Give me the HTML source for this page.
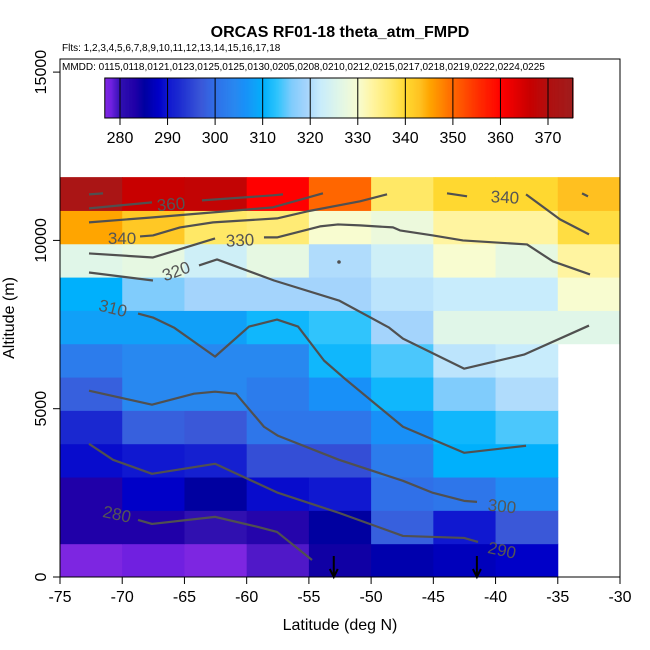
<!DOCTYPE html>
<html><head><meta charset="utf-8"><style>body{margin:0;background:#fff}svg{display:block;font-family:"Liberation Sans",sans-serif}</style></head>
<body>
<svg id="chart" width="650" height="650" xmlns="http://www.w3.org/2000/svg">
<rect x="0" y="0" width="650" height="650" fill="#fff"/>
<g id="cells"></g>
<g id="contours"></g>
<g id="clabels" fill="#555" font-size="17"></g>
<g id="arrows"></g>
<rect x="60" y="59" width="560" height="518" fill="none" stroke="#000" stroke-width="1"/>
<text x="340" y="37" text-anchor="middle" font-size="16" font-weight="bold">ORCAS RF01-18 theta_atm_FMPD</text>
<text x="62" y="51" font-size="10">Flts: 1,2,3,4,5,6,7,8,9,10,11,12,13,14,15,16,17,18</text>
<text x="62" y="70" font-size="10">MMDD: 0115,0118,0121,0123,0125,0125,0130,0205,0208,0210,0212,0215,0217,0218,0219,0222,0224,0225</text>
<g id="cbar"></g>
<g id="axes"></g>
<text x="340" y="630" text-anchor="middle" font-size="16">Latitude (deg N)</text>
<text transform="translate(14,318) rotate(-90)" text-anchor="middle" font-size="16">Altitude (m)</text>
</svg>
<script>
const latEdges = [-75,-70,-65,-60,-55,-50,-45,-40,-35,-30];
const rowHeight = 990;
// values by row, bottom (row 0) to top (row 11); null = no data
const theta = [
 [277,278,277,279,284,286,287,288,null],
 [283,283,280,282,285,298,290,297,null],
 [283,288,285,289,290,300,301,305,null],
 [289,290,291,296,296,302,310,310,null],
 [292,298,297,301,301,306,311,314,null],
 [298,304,304,302,306,311,316,320,null],
 [302,304,304,304,311,314,321,322,null],
 [308,308,308,311,313,319,326,326,326],
 [310,316,319,319,319,321,322,322,330],
 [326,327,323,327,320,323,330,327,333],
 [345,342,337,336,330,328,333,333,339],
 [372,366,367,360,350,337,340,340,343]
];
const xTicks = [-75,-70,-65,-60,-55,-50,-45,-40,-35,-30];
const yTicks = [0,5000,10000,15000];
const cbTicks = [280,290,300,310,320,330,340,350,360,370];
const arrowLats = [-53,-41.5];
const contourLines = [
 [[-72.67,11368],[-71.54,11398]],
 [[-72.67,10952],[-67.61,11130]],
 [[-63.59,11190],[-57.88,11339],[-57.08,11368]],
 [[-72.67,10535],[-67.53,10684],[-62.70,10833],[-57.88,10982],[-53.87,11398]],
 [[-68.57,10118],[-67.53,10148],[-65.36,10386],[-62.70,10535],[-57.56,10654],[-55.15,10862],[-50.89,11160],[-48.72,11368]],
 [[-43.90,11398],[-42.29,11309]],
 [[-37.55,11368],[-34.82,10624],[-32.49,10178]],
 [[-33.05,11398],[-32.57,11309]],
 [[-72.67,9612],[-67.53,9493],[-62.54,10059]],
 [[-58.61,10089],[-57.56,10089],[-54.11,10416],[-52.66,10475],[-50.89,10446],[-48.24,10386],[-47.68,10297],[-45.03,10148],[-42.62,9999],[-37.47,9880],[-35.38,9374],[-32.41,8988]],
 [[-72.67,9047],[-67.53,8809]],
 [[-63.83,9255],[-62.38,9434],[-57.80,8809],[-52.58,8214],[-48.56,7410],[-47.44,7083],[-42.53,6190],[-37.71,6607],[-32.49,7470]],
 [[-68.73,7827],[-67.53,7708],[-65.84,7410],[-62.54,6547],[-59.81,7440],[-57.56,7648],[-55.87,7440],[-53.78,6428],[-52.02,5863],[-47.44,4464],[-42.53,3690],[-37.55,3899]],
 [[-72.67,5535],[-67.61,5119],[-64.23,5446],[-62.54,5506],[-60.86,5446],[-58.61,4464],[-57.48,4196],[-52.58,3482],[-47.44,2857],[-45.03,2500],[-42.53,2262],[-41.49,2232]],
 [[-72.67,3958],[-70.74,3482],[-67.61,3065],[-62.54,3363],[-57.48,2500],[-52.58,1905],[-47.44,1220],[-42.53,1161],[-41.41,1042]],
 [[-68.73,1696],[-67.61,1577],[-62.54,1786],[-59.09,1488],[-57.56,1339],[-54.75,506]]
];
const contourText = ["360","340","330","320","310","340","300","290","280"];
const contourTextPos = [[171,210,-5],[122,244,0],[240,246,-3],[176,277,-20],[113,314,14],[505,203,3],[502,512,6],[502,556,12],[117,520,12]];

const X = v => 60 + (v + 75) * 560 / 45;
const Y = v => 577 - v * 0.03366;
const stops = [[276,'#8a2be2'],[278,'#7020e0'],[280,'#3010b0'],[283,'#2000a8'],[285,'#0000a0'],[288,'#0000c8'],[290,'#1018d0'],[292,'#1a28d0'],[297,'#3a58d8'],[300,'#3070e8'],[304,'#2888f0'],[306,'#1890f8'],[308,'#10a0f8'],[310,'#00b0fc'],[313,'#30c4fc'],[316,'#80ccfc'],[319,'#a4d4fc'],[322,'#c8ecfc'],[326,'#e0f6e8'],[330,'#f8fcd0'],[333,'#fff4a0'],[337,'#ffe866'],[340,'#ffd830'],[343,'#ffc020'],[345,'#ffa500'],[350,'#ff6600'],[355,'#ff3000'],[360,'#ff0000'],[366,'#c80000'],[370,'#b01010'],[375,'#a01c1c']];
function hex(h){return [1,3,5].map(i=>parseInt(h.substr(i,2),16));}
function color(v){
 if(v<=stops[0][0])return stops[0][1];
 for(let i=1;i<stops.length;i++){if(v<=stops[i][0]){const a=stops[i-1],b=stops[i];const t=(v-a[0])/(b[0]-a[0]);const ca=hex(a[1]),cb=hex(b[1]);return 'rgb('+ca.map((c,k)=>Math.round(c+(cb[k]-c)*t)).join(',')+')';}}
 return stops[stops.length-1][1];
}
const NS='http://www.w3.org/2000/svg';
function mk(tag,attrs,parent){const e=document.createElementNS(NS,tag);for(const k in attrs)e.setAttribute(k,attrs[k]);parent.appendChild(e);return e;}
const cells=document.getElementById('cells');
theta.forEach((row,r)=>row.forEach((v,c)=>{
 if(v===null)return;
 const y0=Y((r+1)*rowHeight),y1=Y(r*rowHeight);
 const e=mk('rect',{x:X(latEdges[c]),y:y0,width:X(latEdges[c+1])-X(latEdges[c])+0.5,height:y1-y0+0.5,fill:color(v)},cells);
 
 
}));
const cg=document.getElementById('contours');
contourLines.forEach(line=>{
 const e=mk('polyline',{points:line.map(p=>X(p[0])+','+Y(p[1])).join(' '),fill:'none',stroke:'#505050','stroke-width':2.2,'stroke-linejoin':'round'},cg);
 
 
});
mk('circle',{cx:339,cy:262,r:1.8,fill:'#505050'},cg);
const lg=document.getElementById('clabels');
contourText.forEach((t,i)=>{const p=contourTextPos[i];
 const e=mk('text',{x:p[0],y:p[1],'text-anchor':'middle',transform:'rotate('+p[2]+' '+p[0]+' '+(p[1]-6)+')'},lg);e.textContent=t;
 
 
});
const ag=document.getElementById('arrows');
arrowLats.forEach(l=>{const x=X(l);
 const e=mk('path',{d:'M'+x+' 556 L'+x+' 577 M'+(x-4)+' 569 L'+x+' 577 L'+(x+4)+' 569',stroke:'#000','stroke-width':2,fill:'none'},ag);
 
 
});
const ax=document.getElementById('axes');
xTicks.forEach(t=>{const x=X(t);
 mk('line',{x1:x,y1:577,x2:x,y2:584,stroke:'#000'},ax);
 const e=mk('text',{x:x,y:602,'text-anchor':'middle','font-size':16},ax);e.textContent=t;
 
 
});
yTicks.forEach(t=>{const y=Y(t);
 mk('line',{x1:53,y1:y,x2:60,y2:y,stroke:'#000'},ax);
 const e=mk('text',{x:0,y:0,'text-anchor':'middle','font-size':16,transform:'translate(46,'+y+') rotate(-90)'},ax);e.textContent=t;
 
 
});
const cb=document.getElementById('cbar');
const cbX=v=>120+(v-280)*(548-120)/90;
for(let v=276.8;v<375.2;v+=0.25){mk('rect',{x:cbX(v),y:78,width:(548-120)/90*0.25+0.4,height:40,fill:color(v)},cb);}
mk('rect',{x:cbX(276.8),y:78,width:cbX(375.2)-cbX(276.8),height:40,fill:'none',stroke:'#000'},cb);
cbTicks.forEach(t=>{const x=cbX(t);
 mk('line',{x1:x,y1:78,x2:x,y2:125,stroke:'#000','stroke-width':1},cb);
 const e=mk('text',{x:x,y:143,'text-anchor':'middle','font-size':16},cb);e.textContent=t;
 
 
});
</script>
</body></html>
